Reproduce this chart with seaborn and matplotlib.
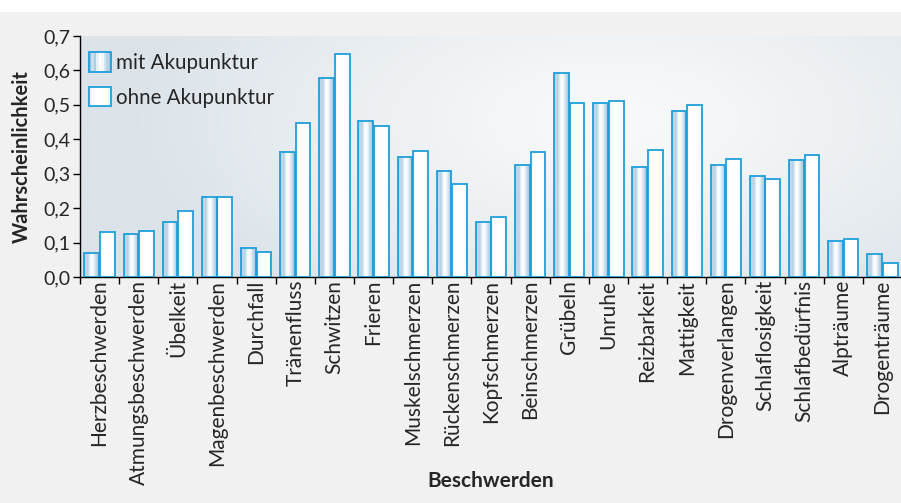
import numpy as np
import pandas as pd
import matplotlib
matplotlib.use("Agg")
import matplotlib.pyplot as plt
import matplotlib.ticker as mticker
import seaborn as sns
from matplotlib.colors import LinearSegmentedColormap, to_rgb
from matplotlib.patches import Rectangle
from matplotlib.legend_handler import HandlerPatch

beschwerden = [
    "Herzbeschwerden", "Atmungsbeschwerden", "Übelkeit", "Magenbeschwerden",
    "Durchfall", "Tränenfluss", "Schwitzen", "Frieren", "Muskelschmerzen",
    "Rückenschmerzen", "Kopfschmerzen", "Beinschmerzen", "Grübeln", "Unruhe",
    "Reizbarkeit", "Mattigkeit", "Drogenverlangen", "Schlaflosigkeit",
    "Schlafbedürfnis", "Alpträume", "Drogenträume",
]
mit_akupunktur = [0.071, 0.125, 0.161, 0.233, 0.085, 0.362, 0.579, 0.453,
                  0.348, 0.309, 0.159, 0.325, 0.592, 0.504, 0.319, 0.483,
                  0.324, 0.292, 0.340, 0.104, 0.066]
ohne_akupunktur = [0.131, 0.133, 0.192, 0.233, 0.072, 0.446, 0.647, 0.438,
                   0.367, 0.271, 0.175, 0.364, 0.504, 0.510, 0.368, 0.500,
                   0.344, 0.286, 0.354, 0.111, 0.040]
gruppen = ["mit Akupunktur", "ohne Akupunktur"]
y_ticks = [0.0, 0.1, 0.2, 0.3, 0.4, 0.5, 0.6, 0.7]

df = pd.DataFrame({
    "Beschwerde": beschwerden * 2,
    "Wert": mit_akupunktur + ohne_akupunktur,
    "Gruppe": [gruppen[0]] * len(beschwerden) + [gruppen[1]] * len(beschwerden),
})

sns.set_style("ticks")
plt.rcParams["font.family"] = ["Lato", "DejaVu Sans"]

RAND = "#1e9fda"
streifen_mit = ["#9dbfd9", "#c9dded", "#b0cde2", "#e6f0f7", "#ffffff",
                "#f4f8fb", "#d3e4f0", "#b7d2e6", "#a4c6df"]
streifen_ohne = ["#edf4fa", "#ffffff", "#ffffff", "#ffffff", "#ffffff",
                 "#fbfdfe", "#f2f7fb"]

fig = plt.figure(figsize=(9.01, 5.03), dpi=100, facecolor="#f1f1f1")
fig.patches.append(Rectangle((0, 1 - 11 / 503), 1, 11 / 503,
                             transform=fig.transFigure, color="white", zorder=0))

pos = [80 / 901, 1 - 277 / 503, 822 / 901, 241 / 503]

# background of the plot area: soft radial light spot
bg_ax = fig.add_axes(pos)
bg_ax.set_zorder(0)
yy, xx = np.mgrid[0:1:241j, 0:1:822j]
d = np.sqrt(((xx - 0.65) * 1.6) ** 2 + ((yy - 0.35) * 1.0) ** 2)
t = np.clip(d / 0.95, 0, 1) ** 1.3
hell, dunkel = np.array(to_rgb("#f8f9fa")), np.array(to_rgb("#dbe3e9"))
bg = hell * (1 - t[..., None]) + dunkel * t[..., None]
bg_ax.imshow(bg, extent=[0, 1, 0, 1], aspect="auto")
bg_ax.axis("off")

ax = fig.add_axes(pos)
ax.set_zorder(1)
ax.patch.set_visible(False)

sns.barplot(data=df, x="Beschwerde", y="Wert", hue="Gruppe",
            palette=["#c5dbea", "white"], width=0.8, gap=0.06,
            edgecolor=RAND, linewidth=1.3, legend=False, ax=ax)


def verlauf(farben):
    cmap = LinearSegmentedColormap.from_list("v", farben)
    return cmap(np.linspace(0, 1, 64))[None, :, :3]


for cont, farben in zip(ax.containers, [streifen_mit, streifen_ohne]):
    bild = verlauf(farben)
    for p in cont:
        x0, w, h = p.get_x(), p.get_width(), p.get_height()
        ax.imshow(bild, extent=[x0, x0 + w, 0, h], aspect="auto",
                  interpolation="bilinear", zorder=2)
        p.set_facecolor("none")
        p.set_zorder(3)

ax.set_xlim(-0.5, len(beschwerden) - 0.5)
ax.set_ylim(0, 0.7)
ax.set_aspect("auto")

ax.set_yticks(y_ticks)
ax.yaxis.set_major_formatter(
    mticker.FuncFormatter(lambda v, _: f"{v:.1f}".replace(".", ",")))
ax.tick_params(axis="y", labelsize=14, length=5, width=1, color="black", pad=2)

ax.set_xticks(range(len(beschwerden)))
ax.set_xticklabels(beschwerden, rotation=90, fontsize=15)
ax.set_xticks(np.arange(-0.5, len(beschwerden)), minor=True)
ax.tick_params(axis="x", which="major", length=0, pad=2)
ax.tick_params(axis="x", which="minor", length=5, width=1, color="black")

for s in ["top", "right"]:
    ax.spines[s].set_visible(False)
for s in ["left", "bottom"]:
    ax.spines[s].set_color("black")
    ax.spines[s].set_linewidth(1)

ax.set_xlabel("Beschwerden", fontsize=15, fontweight="bold")
ax.xaxis.set_label_coords(0.5, -0.805)
ax.set_ylabel("Wahrscheinlichkeit", fontsize=14.5, fontweight="bold", labelpad=8)


class StreifenHandler(HandlerPatch):
    def __init__(self, farben, **kw):
        super().__init__(**kw)
        self.farben = farben

    def create_artists(self, legend, orig_handle, xdescent, ydescent,
                       width, height, fontsize, trans):
        n = len(self.farben)
        arts = []
        for i, c in enumerate(self.farben):
            arts.append(Rectangle((-xdescent + i * width / n, -ydescent),
                                  width / n, height, facecolor=c,
                                  edgecolor="none", transform=trans))
        arts.append(Rectangle((-xdescent, -ydescent), width, height,
                              facecolor="none", edgecolor=RAND, lw=1.3,
                              transform=trans))
        return arts


h_mit = Rectangle((0, 0), 1, 1)
h_ohne = Rectangle((0, 0), 1, 1)
ax.legend([h_mit, h_ohne], gruppen, loc="upper left",
          bbox_to_anchor=(0.011, 0.932), frameon=False, fontsize=14.8,
          handlelength=1.07, handleheight=1.07, handletextpad=0.25,
          labelspacing=0.68, borderpad=0, borderaxespad=0,
          handler_map={h_mit: StreifenHandler(streifen_mit),
                       h_ohne: StreifenHandler(streifen_ohne)})

fig.savefig("out.png", dpi=100, facecolor=fig.get_facecolor())
